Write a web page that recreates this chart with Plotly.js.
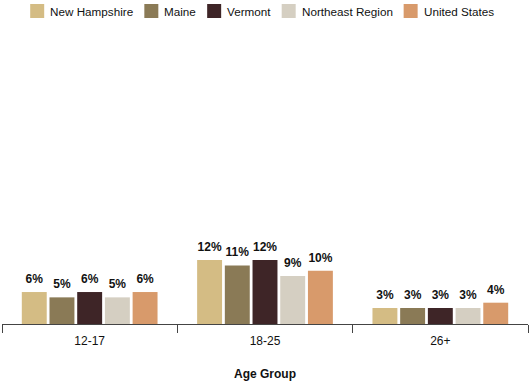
<!DOCTYPE html>
<html>
<head>
<meta charset="utf-8">
<script src="https://cdn.plot.ly/plotly-3.0.1.min.js"></script>
<style>html,body{margin:0;padding:0;background:#fff;}#chart{width:530px;height:384px;}</style>
</head>
<body>
<div id="chart"></div>
<script>
const categories = ["12-17", "18-25", "26+"];
const seriesNames = ["New Hampshire", "Maine", "Vermont", "Northeast Region", "United States"];
const newHampshire = [6, 12, 3];
const maine = [5, 11, 3];
const vermont = [6, 12, 3];
const northeast = [5, 9, 3];
const unitedStates = [6, 10, 4];
const seriesValues = [newHampshire, maine, vermont, northeast, unitedStates];
const colors = ["#d4bc84", "#8a7a56", "#3e2527", "#d5cfc2", "#d89a6b"];

const FONT = "Liberation Sans, Arial, sans-serif";
const W = 530, H = 384;
const margin = {l: 2, r: 2, t: 40, b: 60};
const plotW = W - margin.l - margin.r;
const plotH = H - margin.t - margin.b;
const GAP = 0.21;

const bars = seriesNames.map((name, i) => ({
  type: "bar",
  name: name,
  x: categories,
  y: seriesValues[i],
  marker: {color: colors[i]},
  hoverinfo: "none"
}));

// value labels as grouped scatter traces (invisible markers) aligned with the bars
const labels = seriesNames.map((name, i) => ({
  type: "scatter",
  mode: "markers+text",
  name: name + " label",
  x: categories,
  y: seriesValues[i],
  text: seriesValues[i].map(v => "<b>" + v + "%</b>"),
  textposition: "top center",
  textfont: {family: FONT, size: 12, color: "#111"},
  marker: {size: 8, color: "rgba(0,0,0,0)"},
  cliponaxis: false,
  hoverinfo: "none",
  showlegend: false
}));

// Custom legend built from the series names / colours
const LEG_FS = 11.7;
const ctx = document.createElement("canvas").getContext("2d");
ctx.font = LEG_FS + "px " + FONT;
const swatch = 14, swGap = 4, itemGap = 13;
const widths = seriesNames.map(n => swatch + swGap + ctx.measureText(n).width);
const total = widths.reduce((a, b) => a + b, 0) + itemGap * (seriesNames.length - 1);
let xpx = 261 - total / 2;
const shapes = [], annotations = [];
const legTop = 4, legBot = 18, legMid = 11.5;
const toPX = px => (px - margin.l) / plotW;
const toPY = py => (H - margin.b - py) / plotH;
seriesNames.forEach((n, i) => {
  shapes.push({type: "rect", xref: "paper", yref: "paper",
    x0: toPX(xpx), x1: toPX(xpx + swatch), y0: toPY(legBot), y1: toPY(legTop),
    fillcolor: colors[i], line: {width: 0}});
  annotations.push({xref: "paper", yref: "paper", x: toPX(xpx + swatch + swGap), y: toPY(legMid),
    xanchor: "left", yanchor: "middle", text: n, showarrow: false,
    font: {family: FONT, size: LEG_FS, color: "#111"}});
  xpx += widths[i] + itemGap;
});

const layout = {
  width: W, height: H,
  margin: margin,
  paper_bgcolor: "#fff", plot_bgcolor: "#fff",
  font: {family: FONT, size: 12, color: "#111"},
  barmode: "group",
  bargap: GAP,
  bargroupgap: 0.1,
  scattermode: "group",
  scattergap: GAP,
  showlegend: false,
  shapes: shapes,
  annotations: annotations,
  xaxis: {
    type: "category",
    showline: true, linecolor: "#444", linewidth: 1,
    ticks: "outside", tickson: "boundaries", ticklen: 8, tickcolor: "#444",
    tickfont: {size: 12},
    ticklabelstandoff: 6,
    title: {text: "<b>Age Group</b>", font: {size: 12}, standoff: 22},
    showgrid: false, zeroline: false
  },
  yaxis: {range: [0, 53.3], visible: false, showgrid: false, zeroline: false}
};

Plotly.newPlot("chart", bars.concat(labels), layout, {displayModeBar: false, staticPlot: true});
</script>
</body>
</html>
